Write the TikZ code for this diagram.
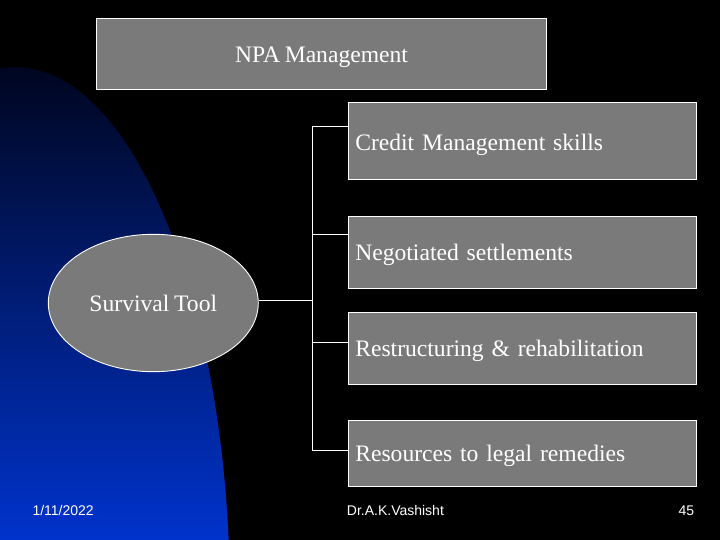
\documentclass[tikz,border=0pt]{standalone}
\usepackage{fontspec}
\setmainfont{Liberation Serif}
\newfontfamily\footfont{Liberation Sans}
\usetikzlibrary{shapes.geometric}
\definecolor{boxgray}{RGB}{122,122,122}
\definecolor{navytop}{RGB}{0,6,32}
\definecolor{bluebot}{RGB}{0,51,204}
\newcommand{\boxfont}{\fontsize{23.6}{28}\selectfont\spaceskip=0.2em\relax}
\tikzset{
  box/.style={draw=white, line width=0.9pt, fill=boxgray, rectangle,
    minimum width=348.4pt, text width=334.4pt, inner xsep=7pt, inner ysep=0pt,
    align=left, text=white, font=\boxfont,
    text height=16pt, text depth=0pt},
  titlebox/.style={draw=white, line width=0.9pt, fill=boxgray, rectangle,
    minimum width=450.4pt, minimum height=71.3pt, inner sep=0pt, align=center,
    text=white, font=\boxfont, text height=16pt, text depth=0pt},
  oval/.style={draw=white, line width=0.9pt, fill=boxgray, ellipse,
    minimum width=210pt, minimum height=137.4pt, inner sep=0pt,
    text=white, font=\boxfont, text height=16pt, text depth=0pt},
  tree/.style={draw=white, line width=0.9pt},
  foot/.style={text=white, font=\footfont\fontsize{14}{16}\selectfont, inner sep=0pt}
}
\begin{document}
\begin{tikzpicture}[x=1pt, y=-1pt]
\useasboundingbox (0,0) rectangle (720,540);
\fill[black] (0,0) rectangle (720,540);
% blue background shape
\begin{scope}
  \clip (0,0) rectangle (720,540);
  \clip (15,600) ellipse [x radius=215, y radius=533];
  \shade[top color=navytop, bottom color=bluebot] (0,67) rectangle (240,540);
\end{scope}
% nodes
\node[titlebox] (npa) at (321.5,54.3) {NPA Management};
\node[box, minimum height=77.3pt, text height=19pt] (credit) at (522.5,141.3) {Credit Management skills};
\node[box, minimum height=71.6pt] (neg) at (522.5,252.5) {Negotiated settlements};
\node[box, minimum height=71.6pt] (restr) at (522.5,348.5) {Restructuring \& rehabilitation};
\node[box, minimum height=65.3pt] (res) at (522.5,453.3) {Resources to legal remedies};
\node[oval] (surv) at (153.3,303) {Survival Tool};
% tree connectors
\coordinate (trunk) at (312.3,300);
\coordinate (c1) at (312.3,126.7);
\coordinate (c2) at (312.3,234);
\coordinate (c3) at (312.3,342.7);
\coordinate (c4) at (312.3,450);
\draw[tree] (trunk -| surv.east) -- (trunk);
\draw[tree] (c1) -- (c4);
\draw[tree] (c1) -- (c1 -| credit.west);
\draw[tree] (c2) -- (c2 -| neg.west);
\draw[tree] (c3) -- (c3 -| restr.west);
\draw[tree] (c4) -- (c4 -| res.west);
% footer
\node[foot, anchor=base west] (date) at (32.3,515) {1/11/2022};
\node[foot, anchor=base west] (author) at (346.7,515) {Dr.A.K.Vashisht};
\node[foot, anchor=base east] (page) at (694.3,515) {45};
\end{tikzpicture}
\end{document}
